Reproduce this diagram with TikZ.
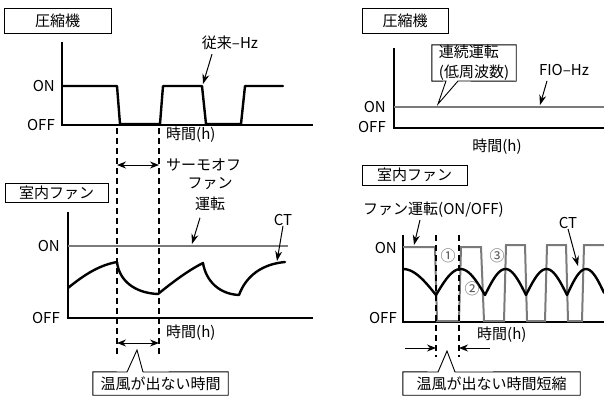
\documentclass[tikz,border=0pt]{standalone}
\usepackage{fontspec}
\setmainfont{Noto Sans CJK JP}
\usepackage{tikz}
\usetikzlibrary{arrows.meta,calc}
\definecolor{clFan}{HTML}{7A7A7A}
\definecolor{clNum}{HTML}{555555}
\tikzset{
  lbl/.style={inner sep=0pt, font=\fontsize{15}{18}\selectfont},
  titlebox/.style={lbl, draw, line width=0.9pt, minimum height=25pt},
  axisline/.style={line width=1.1pt},
  wave/.style={line width=2.4pt, line join=round, line cap=round},
  fanline/.style={line width=2pt, draw=clFan},
  guide/.style={line width=1.2pt, dash pattern=on 6pt off 4pt},
  pointer/.style={-{Stealth[length=10pt,width=7pt]}, line width=1pt},
  span/.style={{Stealth[length=9pt,width=7pt]}-{Stealth[length=9pt,width=7pt]}, line width=1pt},
  inward/.style={-{Stealth[length=9pt,width=7pt]}, line width=1pt},
  bubble/.style={line width=0.9pt, line join=miter},
}

\begin{document}
\begin{tikzpicture}[x=1pt, y=-1pt]
  \useasboundingbox (0,0) rectangle (604,400);

  % compressor, conventional (top left)
  \node[titlebox, minimum width=107pt] (compL) at (57.5,20.5) {圧縮機};
  \draw[axisline] (62,42) -- (62,125) -- (313,125);
  \node[lbl, anchor=east] (onA) at (55,86) {ON};
  \node[lbl, anchor=east] (offA) at (55,125) {OFF};
  \draw[wave] (62,86) -- (117,86) -- (120,124) -- (160,124) -- (163,86) -- (202,86)
    -- (206,124) -- (241,124) -- (245,86) -- (283,86);
  \node[lbl] (hzL) at (230,43) {従来–Hz};
  \coordinate (hzTip) at (203,84);
  \draw[pointer] ([xshift=-18pt,yshift=-4pt]hzL.south) -- (hzTip);
  \node[lbl, anchor=west] (timeA) at (166,135) {時間(h)};

  % thermo-off interval guides
  \coordinate (gA1) at (117,128); \coordinate (gA2) at (159,128);
  \draw[guide] (gA1) -- (117,357);
  \draw[guide] (gA2) -- (159,357);
  \node[lbl, anchor=west] (thermo) at (166,165) {サーモオフ};
  \draw[span] (117,165) -- (159,165);

  % indoor fan, conventional (bottom left)
  \node[titlebox, minimum width=103pt, minimum height=19pt] (fanL) at (56.5,192.5) {室内ファン};
  \draw[axisline] (68,212) -- (68,318) -- (313,318);
  \node[lbl, anchor=east] (onB) at (60,246) {ON};
  \node[lbl, anchor=east] (offB) at (60,318) {OFF};
  \draw[fanline] (68,246) -- (288,246);
  \draw[wave] (68,288) .. controls (85,274) and (100,265) .. (117,262)
    .. controls (119,280) and (134,293) .. (158,294)
    .. controls (174,281) and (189,270) .. (203,263)
    .. controls (206,281) and (219,294) .. (239,295)
    .. controls (246,276) and (262,264) .. (285,262);
  \node[lbl, align=center, font=\fontsize{15}{21}\selectfont] (fanRun) at (210,194) {ファン\\運転};
  \coordinate (runTip) at (192,244);
  \draw[pointer] ([xshift=-10pt,yshift=-7pt]fanRun.south) -- (runTip);
  \node[lbl] (ctL) at (283,220) {CT};
  \coordinate (ctTipL) at (277,261);
  \draw[pointer] (ctL.south) -- (ctTipL);
  \node[lbl, anchor=west] (timeB) at (166,333) {時間(h)};
  \draw[span] (117,343) -- (159,343);

  % callout: no warm air
  \node[lbl, minimum width=135pt, minimum height=23pt] (hotL) at (160.5,383.5) {温風が出ない時間};
  \coordinate (hotTipL) at (137,350);
  \draw[bubble] (hotL.north west) -- (127,372) -- (hotTipL) -- (143,372)
    -- (hotL.north east) -- (hotL.south east) -- (hotL.south west) -- cycle;

  % compressor, FIO (top right)
  \node[titlebox, minimum width=86pt] (compR) at (405,20.5) {圧縮機};
  \draw[axisline] (394,48) -- (394,128) -- (604,128);
  \node[lbl, anchor=east] (onC) at (386,107) {ON};
  \node[lbl, anchor=east] (offC) at (386,127) {OFF};
  \draw[fanline] (394,107) -- (604,107);
  \node[lbl] (timeC) at (497,147) {時間(h)};
  \node[lbl, align=left, minimum width=84pt, minimum height=36pt,
        font=\fontsize{15}{20}\selectfont] (cont) at (474,63) {連続運転\\(低周波数)};
  \coordinate (contTip) at (438,104);
  \draw[bubble] (cont.north west) -- (cont.north east) -- (cont.south east)
    -- (458,81) -- (contTip) -- (446,81) -- (cont.south west) -- cycle;
  \node[lbl] (hzR) at (564,70) {FIO–Hz};
  \coordinate (hzTipR) at (540,105);
  \draw[pointer] ([xshift=-17pt,yshift=-5pt]hzR.south) -- (hzTipR);

  % indoor fan, FIO (bottom right)
  \node[titlebox, minimum width=105pt, minimum height=20pt] (fanR) at (414.5,175) {室内ファン};
  \node[lbl, anchor=west] (fanOnOff) at (363,210) {ファン運転(ON/OFF)};
  \coordinate (onoffTip) at (414,245);
  \draw[pointer] ([xshift=57pt,yshift=-2pt]fanOnOff.south west) -- (onoffTip);
  \draw[axisline] (403,235) -- (403,322) -- (604,322);
  \node[lbl, anchor=east] (onD) at (397,248) {ON};
  \node[lbl, anchor=east] (offD) at (397,318) {OFF};
  \draw[fanline] (403,247) -- (435,247) -- (437,321) -- (459,321) -- (461,247) -- (481,247)
    -- (484,321) -- (504,321) -- (506,245) -- (525,245) -- (527,321) -- (545,321)
    -- (547,245) -- (566,245) -- (568,321) -- (582,321) -- (584,245) -- (604,245);
  \foreach \a/\b/\s/\e in {370/436/403/436, 436/485/436/485, 485/526/485/526,
                           526/567/526/567, 567/605/567/604}
    \draw[wave] plot[domain=\s:\e, samples=25, smooth]
      (\x, {295-26*sin(180*(\x-\a)/(\b-\a))});
  \node[lbl, text=clNum] (n1) at (448,256) {①};
  \node[lbl, text=clNum] (n3) at (497,256) {③};
  \node[lbl, text=clNum] (n2) at (472,289) {②};
  \node[lbl] (ctR) at (568,223) {CT};
  \coordinate (ctTipR) at (578,266);
  \draw[pointer] (ctR.south) -- (ctTipR);
  \draw[guide] (436,235) -- (436,357);
  \draw[guide] (459,235) -- (459,357);
  \node[lbl, anchor=west] (timeD) at (477,335) {時間(h)};
  \coordinate (gD1) at (436,348); \coordinate (gD2) at (459,348);
  \draw[inward] (405,348) -- (gD1);
  \draw[inward] (490,348) -- (gD2);

  % callout: shortened time
  \node[lbl, minimum width=177pt, minimum height=23pt] (hotR) at (491.5,383.5) {温風が出ない時間短縮};
  \coordinate (hotTipR) at (447,351);
  \draw[bubble] (hotR.north west) -- (438,372) -- (hotTipR) -- (455,372)
    -- (hotR.north east) -- (hotR.south east) -- (hotR.south west) -- cycle;
\end{tikzpicture}
\end{document}
